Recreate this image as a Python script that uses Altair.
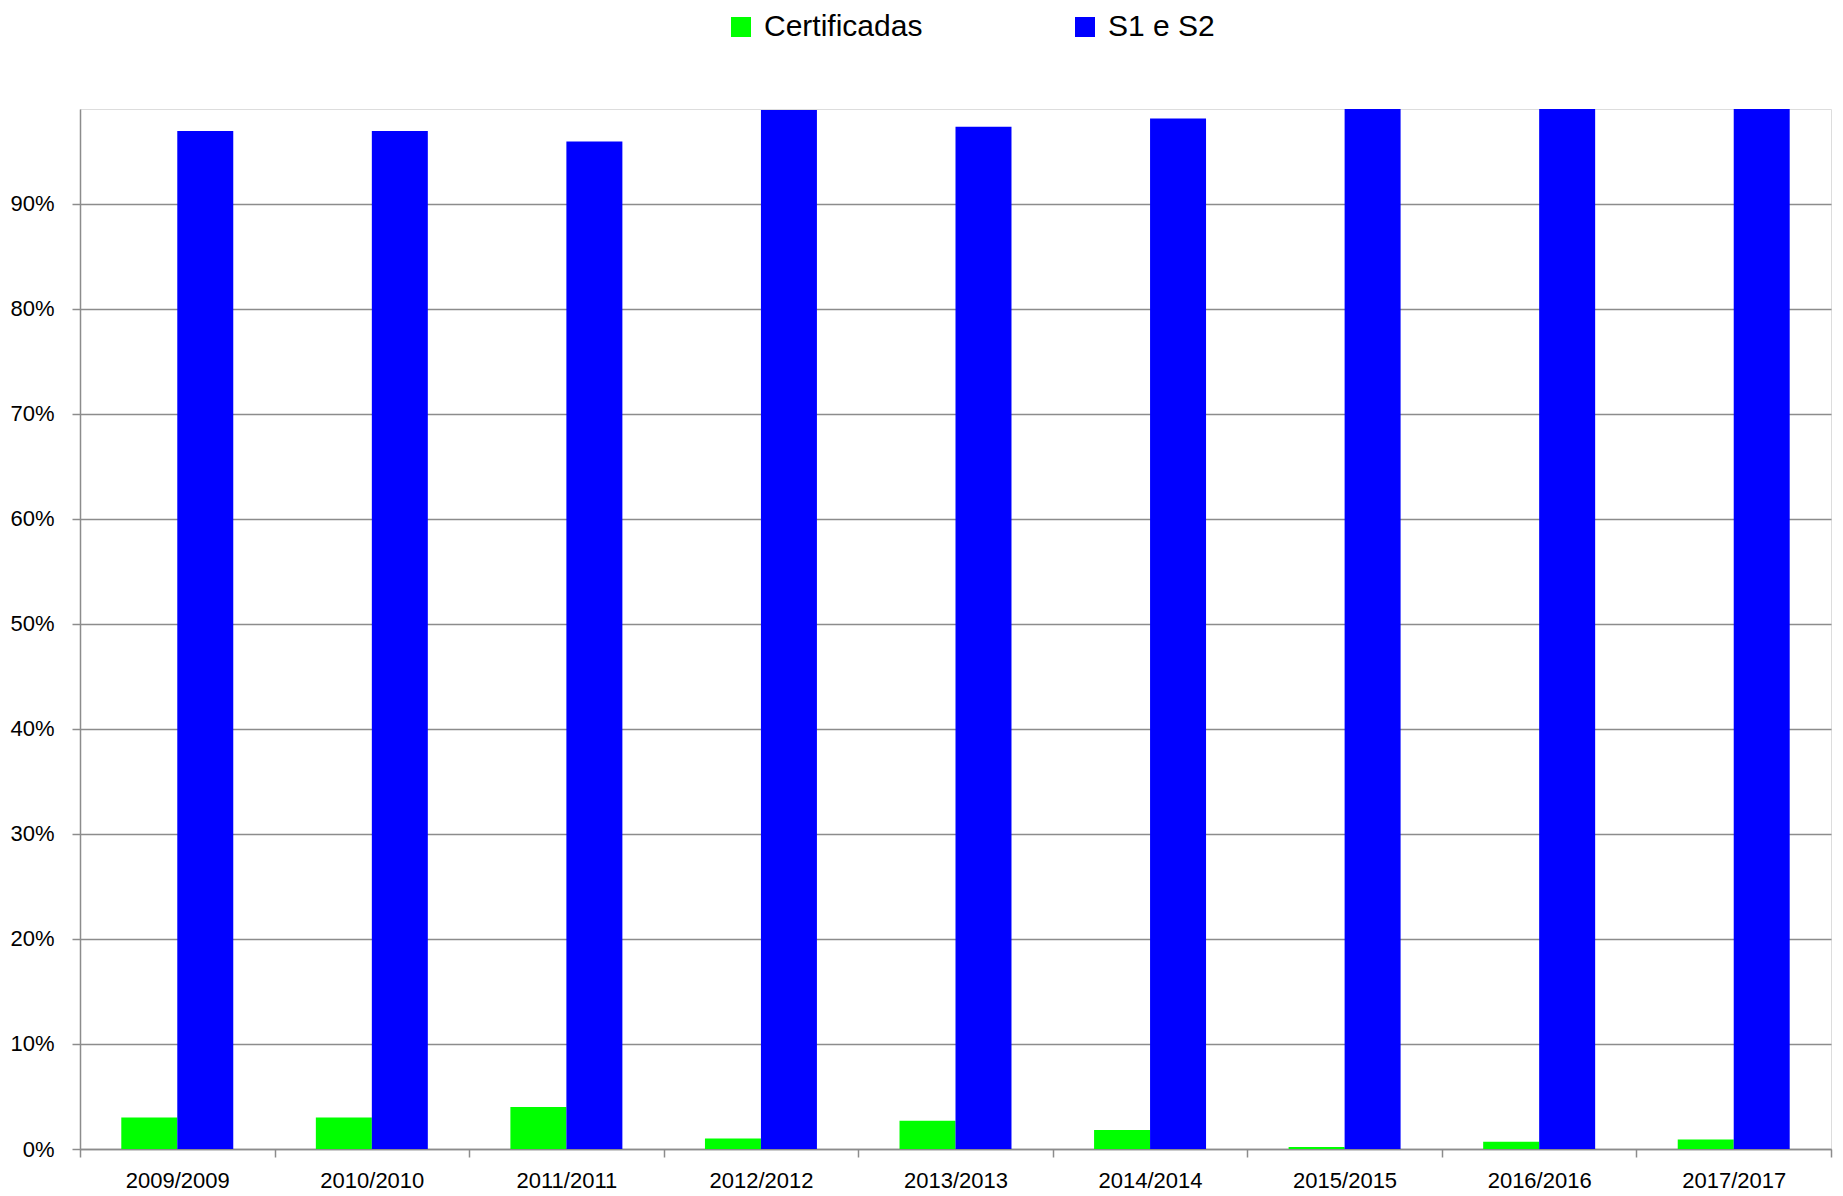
import altair as alt
import pandas as pd

years = ["2009/2009", "2010/2010", "2011/2011", "2012/2012", "2013/2013",
         "2014/2014", "2015/2015", "2016/2016", "2017/2017"]
certificadas = [0.030, 0.030, 0.040, 0.010, 0.027, 0.018, 0.002, 0.007, 0.009]
s1_s2 = [0.969, 0.969, 0.959, 0.989, 0.973, 0.981, 0.998, 0.993, 0.991]
series = ["Certificadas", "S1 e S2"]
colors = ["#00FF00", "#0000FF"]

rows = []
for i, y in enumerate(years):
    rows.append({"ano": y, "serie": series[0], "valor": certificadas[i]})
    rows.append({"ano": y, "serie": series[1], "valor": s1_s2[i]})
df = pd.DataFrame(rows)

FONT = "Liberation Sans"
GRID = "#8c8c8c"

chart = alt.Chart(df).mark_bar(clip=True).encode(
    x=alt.X("ano:N", sort=years, title=None,
            scale=alt.Scale(paddingInner=0, paddingOuter=0),
            axis=alt.Axis(labelAngle=0, labelFont=FONT, labelFontSize=22,
                          labelColor="black", domainColor=GRID, tickColor=GRID,
                          tickSize=8, tickBand="extent", labelPadding=13,
                          grid=False, domainWidth=1.5, tickWidth=1.5)),
    xOffset=alt.XOffset("serie:N", sort=series,
                        scale=alt.Scale(paddingInner=0, paddingOuter=0.7375)),
    y=alt.Y("valor:Q", title=None,
            scale=alt.Scale(domain=[0, 0.99], nice=False),
            axis=alt.Axis(format=".0%", values=[i / 10 for i in range(10)],
                          labelFont=FONT, labelFontSize=22, labelColor="black",
                          domainColor=GRID, tickColor=GRID, gridColor=GRID,
                          tickSize=8, labelPadding=18, gridWidth=1.5,
                          domainWidth=1.5, tickWidth=1.5)),
    color=alt.Color("serie:N", sort=series,
                    scale=alt.Scale(domain=series, range=colors),
                    legend=alt.Legend(title=None, orient="none", direction="horizontal",
                                      legendX=646, legendY=-97,
                                      symbolType="square", symbolSize=400,
                                      symbolStrokeWidth=0, labelFont=FONT,
                                      labelFontSize=30, labelColor="black",
                                      labelOffset=8, columnPadding=147,
                                      labelLimit=400)),
).properties(
    width=1751, height=1040,
    padding={"left": 72, "top": 101, "right": 4, "bottom": 47},
    autosize=alt.AutoSizeParams(type="none"),
).configure_view(stroke="transparent", strokeWidth=0).configure(background="white")

chart.save("out.html", embed_options={"renderer": "svg", "actions": False})
